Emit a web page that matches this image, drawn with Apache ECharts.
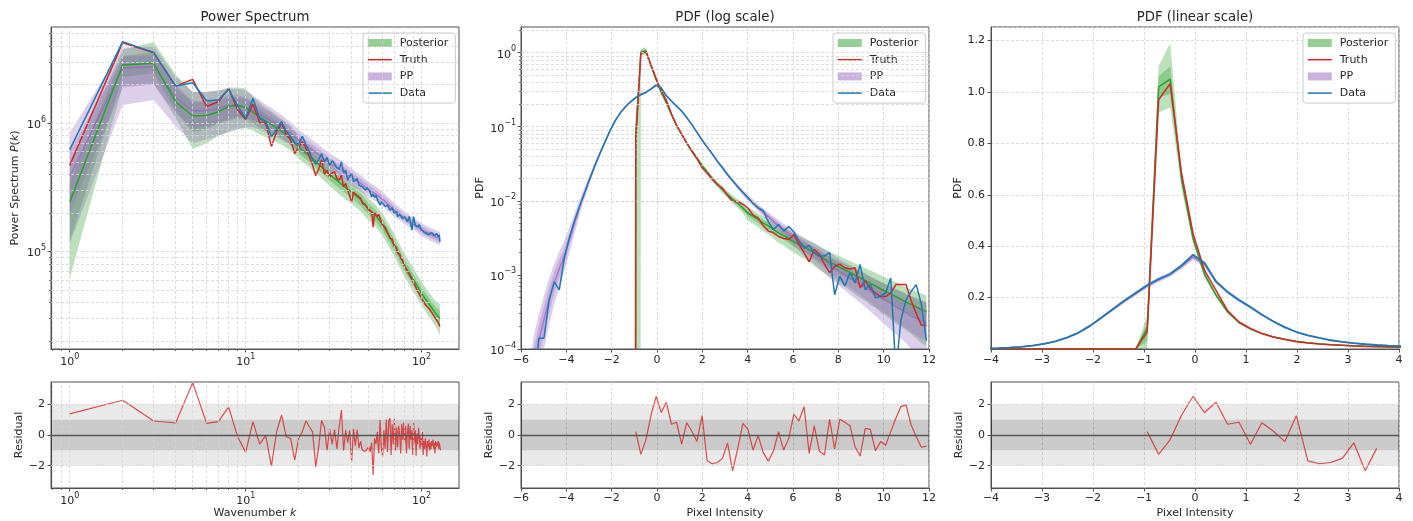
<!DOCTYPE html>
<html><head><meta charset="utf-8">
<script src="https://cdn.jsdelivr.net/npm/echarts@6/dist/echarts.min.js"></script>
<style>html,body{margin:0;padding:0;background:#fff;}#c{width:1413px;height:521px;}</style>
</head><body><div id="c"></div>
<script>
// ---------------- Power spectrum data ----------------
const K_LINE = [1,2,3,4,5,6,7,8,9,10,11,12,13,14,15,16,17,18,19,20,21,22,23,24,25,26,27,28,29,30,
31,32,33,34,35,36,37,38,39,40,41,42,43,44,45,46,47,48,49,50,51,52,53,54,55,56,57,58,59,60,
62,63,64,66,68,70,72,73,75,76,78,80,82,83,85,86,88,90,92,95,97,100,102,105,107,110,112,115,118,120,122,124,126,127];
const PS_DATA = [6.2e5,4.33e6,3.57e6,1.95e6,2.07e6,1.5e6,1.52e6,1.84e6,1.36e6,1.09e6,
1.57e6,1.09e6,1.03e6,7.9e5,8.9e5,1.03e6,8.6e5,7.9e5,7.0e5,6.9e5,
7.9e5,6.8e5,6.0e5,5.2e5,4.8e5,5.2e5,5.8e5,5.0e5,5.4e5,4.7e5,
5.1e5,4.8e5,4.5e5,4.4e5,5.0e5,4.1e5,4.3e5,3.6e5,3.9e5,4.05e5,
3.5e5,3.5e5,3.7e5,3.3e5,3.4e5,3.2e5,3.3e5,3.0e5,3.15e5,3.2e5,
2.9e5,2.68e5,2.8e5,2.65e5,2.75e5,2.55e5,2.6e5,2.3e5,2.45e5,2.38e5,
2.25e5,2.18e5,2.3e5,2.1e5,2.2e5,1.99e5,2.05e5,1.87e5,1.95e5,1.93e5,1.8e5,1.87e5,1.85e5,1.71e5,1.88e5,1.93e5,1.47e5,1.87e5,1.6e5,1.56e5,1.62e5,1.47e5,1.52e5,1.39e5,1.44e5,1.35e5,1.4e5,1.39e5,1.33e5,1.31e5,1.38e5,1.3e5,1.35e5,1.19e5];
const PS_TRUTH = [4.7e5,4.25e6,3.55e6,1.95e6,2.2e6,1.35e6,1.47e6,1.87e6,1.27e6,1.07e6,
1.41e6,1.02e6,1.0e6,6.6e5,8.6e5,1.0e6,8.2e5,7.4e5,5.8e5,6.5e5,
7.2e5,6.4e5,5.5e5,4.7e5,3.9e5,4.4e5,5.2e5,4.0e5,4.3e5,3.8e5,
4.1e5,4.2e5,3.7e5,3.6e5,3.95e5,3.2e5,3.4e5,3.0e5,3.1e5,2.45e5,
2.9e5,3.0e5,2.75e5,2.68e5,2.6e5,2.38e5,2.45e5,2.3e5,2.2e5,2.1e5,
2.15e5,2.05e5,1.55e5,2.0e5,1.99e5,1.88e5,1.95e5,1.82e5,1.7e5,1.61e5,
1.55e5,1.47e5,1.5e5,1.27e5,1.25e5,1.09e5,1.08e5,9.7e4,9.6e4,8.9e4,8.5e4,7.6e4,7.8e4,7.0e4,6.9e4,6.4e4,6.2e4,5.7e4,5.5e4,4.9e4,4.8e4,4.3e4,4.4e4,3.84e4,3.9e4,3.6e4,3.55e4,3.3e4,3.2e4,3.0e4,2.95e4,2.8e4,2.75e4,2.6e4];
const K_BAND = [1,2,3,4,5,6,7,8,9,10,11,12,13,14,16,18,20,23,26,30,35,40,45,50,55,60,70,80,90,100,110,120,127];
const PS_POST_MED = [2.42e5,2.85e6,2.94e6,1.47e6,1.14e6,1.15e6,1.23e6,1.35e6,1.38e6,1.32e6,1.22e6,1.12e6,1.04e6,9.8e5,8.7e5,7.7e5,6.5e5,5.6e5,4.8e5,4.0e5,3.35e5,2.9e5,2.55e5,2.15e5,1.9e5,1.62e5,1.12e5,7.8e4,6.0e4,4.7e4,3.9e4,3.3e4,3.0e4];
const PS_POST_OLO = [6.2e4,1.95e6,2.05e6,1.1e6,6.3e5,7.0e5,8.0e5,8.6e5,9.0e5,9.2e5,8.8e5,8.2e5,7.8e5,7.5e5,6.8e5,6.1e5,5.3e5,4.55e5,3.9e5,3.25e5,2.7e5,2.35e5,2.05e5,1.75e5,1.55e5,1.32e5,9.1e4,6.3e4,4.85e4,3.8e4,3.1e4,2.6e4,2.25e4];
const PS_POST_OHI = [4.6e5,3.75e6,4.3e6,2.4e6,1.76e6,1.76e6,1.8e6,1.9e6,1.9e6,1.87e6,1.62e6,1.45e6,1.32e6,1.24e6,1.08e6,9.6e5,7.8e5,6.8e5,5.8e5,4.85e5,4.05e5,3.5e5,3.1e5,2.6e5,2.3e5,1.98e5,1.37e5,9.6e4,7.4e4,5.8e4,4.8e4,4.1e4,3.9e4];
const PS_POST_ILO = [1.2e5,2.3e6,2.45e6,1.25e6,8.5e5,9.0e5,1.0e6,1.05e6,1.1e6,1.08e6,1.0e6,9.3e5,8.8e5,8.4e5,7.6e5,6.8e5,5.8e5,5.0e5,4.3e5,3.6e5,3.0e5,2.6e5,2.28e5,1.93e5,1.7e5,1.45e5,1.0e5,7.0e4,5.4e4,4.2e4,3.5e4,2.95e4,2.6e4];
const PS_POST_IHI = [3.5e5,3.35e6,3.6e6,1.9e6,1.45e6,1.45e6,1.5e6,1.6e6,1.6e6,1.55e6,1.42e6,1.3e6,1.18e6,1.12e6,9.9e5,8.7e5,7.2e5,6.2e5,5.3e5,4.45e5,3.7e5,3.2e5,2.83e5,2.38e5,2.1e5,1.8e5,1.24e5,8.6e4,6.6e4,5.2e4,4.35e4,3.7e4,3.45e4];
const PS_PP_MED = [3.84e5,2.7e6,2.75e6,1.6e6,1.25e6,1.25e6,1.3e6,1.38e6,1.4e6,1.32e6,1.26e6,1.18e6,1.1e6,1.04e6,9.3e5,8.3e5,7.4e5,6.4e5,5.7e5,4.9e5,4.3e5,3.8e5,3.4e5,3.05e5,2.8e5,2.55e5,2.1e5,1.82e5,1.65e5,1.48e5,1.38e5,1.3e5,1.26e5];
const PS_PP_OLO = [1.15e5,1.39e6,1.52e6,9.5e5,7.0e5,7.5e5,8.0e5,8.5e5,9.0e5,9.3e5,9.3e5,8.9e5,8.5e5,8.1e5,7.4e5,6.7e5,6.0e5,5.3e5,4.75e5,4.1e5,3.65e5,3.25e5,2.95e5,2.65e5,2.45e5,2.25e5,1.87e5,1.63e5,1.48e5,1.32e5,1.23e5,1.16e5,1.12e5];
const PS_PP_OHI = [8.4e5,3.9e6,4.0e6,2.3e6,1.75e6,1.75e6,1.8e6,1.85e6,1.85e6,1.8e6,1.65e6,1.52e6,1.4e6,1.32e6,1.16e6,1.02e6,9.0e5,7.7e5,6.8e5,5.85e5,5.1e5,4.45e5,3.95e5,3.5e5,3.2e5,2.92e5,2.38e5,2.05e5,1.84e5,1.66e5,1.55e5,1.47e5,1.43e5];
const PS_PP_ILO = [2.0e5,1.9e6,2.0e6,1.2e6,9.0e5,9.5e5,1.0e6,1.08e6,1.12e6,1.1e6,1.06e6,1.0e6,9.5e5,9.0e5,8.2e5,7.4e5,6.6e5,5.8e5,5.2e5,4.5e5,3.95e5,3.5e5,3.15e5,2.83e5,2.6e5,2.38e5,1.97e5,1.72e5,1.55e5,1.39e5,1.3e5,1.22e5,1.18e5];
const PS_PP_IHI = [6.0e5,3.3e6,3.4e6,2.0e6,1.5e6,1.5e6,1.55e6,1.65e6,1.65e6,1.6e6,1.48e6,1.38e6,1.27e6,1.2e6,1.05e6,9.3e5,8.3e5,7.1e5,6.3e5,5.4e5,4.7e5,4.15e5,3.7e5,3.3e5,3.02e5,2.74e5,2.25e5,1.94e5,1.75e5,1.58e5,1.47e5,1.39e5,1.35e5];
// residual, k = 1..128
const PS_RESIDUAL = [1.37,2.26,0.91,0.78,3.41,0.76,0.87,1.83,-0.11,-1.13,
0.87,-0.59,-0.02,-2.02,0.22,1.3,-0.11,-0.22,-1.63,-0.2,
0.22,0.93,0.54,0.2,-2.07,-0.76,0.95,0.5,-0.98,0.37,
-0.59,0.35,-0.9,0.55,1.63,-1.0,0.3,-0.5,0.3,-1.74,
0.4,-0.7,0.35,-0.85,-0.4,-1.0,-0.95,-1.05,-0.9,-0.75,
-1.1,-0.5,-2.6,-0.2,-0.6,0.2,-1.2,0.98,-0.8,-1.4,
0.3,-0.9,1.0,-1.1,0.9,1.09,-1.3,0.7,-0.6,1.05,
-1.0,0.5,-0.8,0.6,0.1,-1.2,0.7,-0.3,0.8,-0.5,
0.6,-1.2,0.2,0.75,-0.9,0.6,-0.3,0.3,-1.3,0.8,
-0.5,0.3,-1.35,0.1,-0.6,0.45,-0.2,-0.9,-0.1,-0.8,
0.2,-1.3,-0.4,-0.9,-0.2,-0.7,-1.4,-0.4,-0.8,-0.3,
-1.0,-0.5,-0.9,-0.4,-0.7,-0.3,-0.9,-0.5,-1.2,-0.4,
-0.8,-0.5,-0.7,-0.4,-0.9,-0.5,-0.8,-1.0];

// ---------------- PDF data (bin centres) ----------------
const PIX_BINS = [-5.8875,-5.6625,-5.4375,-5.2125,-4.9875,-4.7625,-4.5375,-4.3125,-4.0875,-3.8625,
-3.6375,-3.4125,-3.1875,-2.9625,-2.7375,-2.5125,-2.2875,-2.0625,-1.8375,-1.6125,
-1.3875,-1.1625,-0.9375,-0.7125,-0.4875,-0.2625,-0.0375,0.1875,0.4125,0.6375,
0.8625,1.0875,1.3125,1.5375,1.7625,1.9875,2.2125,2.4375,2.6625,2.8875,
3.1125,3.3375,3.5625,3.7875,4.0125,4.2375,4.4625,4.6875,4.9125,5.1375,
5.3625,5.5875,5.8125,6.0375,6.2625,6.4875,6.7125,6.9375,7.1625,7.3875,
7.6125,7.8375,8.0625,8.2875,8.5125,8.7375,8.9625,9.1875,9.4125,9.6375,
9.8625,10.0875,10.3125,10.5375,10.7625,10.9875,11.2125,11.4375,11.6625,11.8875];
const PDF_DATA = [0,0,0.00003,0.00014,0.00014,0.00045,0.00081,0.00063,0.0017,0.0032,
0.0054,0.0085,0.013,0.020,0.030,0.044,0.063,0.090,0.122,0.155,
0.188,0.218,0.248,0.272,0.292,0.325,0.367,0.335,0.262,0.222,
0.191,0.163,0.133,0.107,0.084,0.066,0.053,0.043,0.034,0.028,
0.0225,0.0185,0.0155,0.013,0.011,0.0092,0.008,0.0074,0.0052,0.0041,
0.0048,0.0039,0.0045,0.0038,0.0029,0.0023,0.0025,0.002,0.0018,0.0018,
0.002,0.00054,0.00096,0.00071,0.00107,0.00078,0.00138,0.00063,0.00074,0.00049,
0.00052,0.00057,0.00091,0.00005,0.00025,0.00046,0.0006,0.00074,0.0004,0.00013];
const PDF_TRUTH = [0,0,0,0,0,0,0,0,0,0,
0,0,0,0,0,0,0,0,0,0,
0,0,0.066,0.97,1.032,0.682,0.449,0.306,0.228,0.150,
0.105,0.080,0.060,0.047,0.037,0.028,0.0235,0.0195,0.0165,0.0148,
0.0118,0.0098,0.0098,0.009,0.008,0.0064,0.0059,0.0046,0.0039,0.0037,
0.0033,0.0031,0.003,0.0035,0.0026,0.002,0.0015,0.0022,0.0019,0.0014,
0.00107,0.0013,0.0014,0.00125,0.0012,0.00125,0.00067,0.00083,0.00065,0.00057,
0.00051,0.00051,0.00057,0.00074,0.00074,0.00074,0.00045,0.0003,0.00021,0.00021];
const PDF_POST_MED = [0,0,0,0,0,0,0,0,0,0,0,0,0,0,0,0,0,0,0,0,
0,0,0.08,1.02,1.05,0.66,0.43,0.29,0.21,0.145,
0.103,0.078,0.060,0.047,0.038,0.030,0.0245,0.020,0.0168,0.0142,
0.0122,0.0105,0.0092,0.008,0.0068,0.0062,0.0056,0.005,0.0046,0.0041,
0.0037,0.0034,0.0031,0.0028,0.0026,0.0024,0.0022,0.002,0.0018,0.00165,
0.0015,0.00138,0.00127,0.00117,0.00108,0.00099,0.00091,0.00084,0.00077,0.00071,
0.00065,0.0006,0.00055,0.00051,0.00047,0.00043,0.0004,0.00037,0.00034,0.00032];
const PDF_POST_OLO = [0,0,0,0,0,0,0,0,0,0,0,0,0,0,0,0,0,0,0,0,
0,0,0,0.92,0.94,0.625,0.41,0.277,0.2,0.138,
0.0977,0.0738,0.0566,0.0442,0.0356,0.028,0.0227,0.0184,0.0153,0.0128,
0.0109,0.0093,0.008,0.0068,0.0054,0.0049,0.0044,0.0039,0.0035,0.0031,
0.0027,0.0025,0.0022,0.002,0.0018,0.00166,0.0015,0.00132,0.00117,0.00106,
0.00095,0.00086,0.00076,0.00069,0.00062,0.00055,0.00049,0.00045,0.00039,0.00036,
0.00031,0.00028,0.00025,0.00022,0.0002,0.00018,0.00016,0.00014,0.00012,0.00011];
const PDF_POST_OHI = [0,0,0,0,0,0,0,0,0,0,0,0,0,0,0,0,0,0,0,0,
0,0,0.13,1.10,1.19,0.695,0.45,0.303,0.22,0.152,
0.1083,0.0822,0.0634,0.0498,0.0405,0.032,0.0264,0.0217,0.0184,0.0157,
0.0136,0.0118,0.0105,0.0093,0.0082,0.0075,0.0068,0.0062,0.0057,0.0051,
0.0047,0.0043,0.004,0.0036,0.0034,0.0031,0.0029,0.00268,0.00243,0.00224,
0.00206,0.0019,0.00178,0.00165,0.00154,0.00143,0.00133,0.00123,0.00115,0.00107,
0.00099,0.00092,0.00085,0.0008,0.00074,0.00068,0.00064,0.0006,0.00056,0.00053];
const PDF_POST_ILO = [0,0,0,0,0,0,0,0,0,0,0,0,0,0,0,0,0,0,0,0,
0,0,0.03,0.98,0.99,0.642,0.42,0.2835,0.205,0.1415,
0.1004,0.0759,0.0583,0.0456,0.0368,0.029,0.0236,0.0192,0.016,0.0135,
0.0116,0.0099,0.0086,0.0074,0.0062,0.0056,0.005,0.0045,0.0041,0.0036,
0.0033,0.003,0.0027,0.0024,0.0022,0.00205,0.00187,0.00169,0.00151,0.00138,
0.00125,0.00114,0.00104,0.00095,0.00086,0.00079,0.00072,0.00066,0.0006,0.00055,
0.00049,0.00045,0.00041,0.00038,0.00034,0.00031,0.00029,0.00026,0.00024,0.00022];
const PDF_POST_IHI = [0,0,0,0,0,0,0,0,0,0,0,0,0,0,0,0,0,0,0,0,
0,0,0.10,1.06,1.10,0.678,0.44,0.2965,0.215,0.1485,
0.1056,0.0801,0.0617,0.0484,0.0392,0.031,0.0254,0.0208,0.0176,0.0149,
0.0128,0.0111,0.0098,0.0086,0.0074,0.0068,0.0062,0.0055,0.0051,0.0046,
0.0041,0.0038,0.0035,0.0032,0.003,0.00275,0.00253,0.00231,0.00209,0.00192,
0.00176,0.00162,0.0015,0.00139,0.0013,0.00119,0.0011,0.00102,0.00094,0.00087,
0.00081,0.00075,0.00069,0.00064,0.0006,0.00055,0.00051,0.00048,0.00044,0.00042];
const PDF_PP_MED = [0.000002,0.000012,0.00005,0.00013,0.00025,0.00046,0.00078,0.0012,0.0018,0.003,
0.005,0.0083,0.013,0.02,0.03,0.044,0.063,0.089,0.121,0.154,
0.186,0.216,0.246,0.27,0.29,0.322,0.358,0.33,0.262,0.222,
0.19,0.162,0.133,0.107,0.085,0.067,0.053,0.043,0.0345,0.028,
0.0228,0.0188,0.0155,0.013,0.011,0.0094,0.0081,0.007,0.0061,0.0053,
0.0046,0.0041,0.0036,0.0032,0.0028,0.0025,0.0022,0.002,0.0018,0.0016,
0.0014,0.00125,0.0011,0.001,0.0009,0.00082,0.00074,0.00067,0.0006,0.00054,
0.00049,0.00045,0.00041,0.00037,0.00034,0.00031,0.00028,0.00026,0.00024,0.00022];
const PDF_PP_OLO = [2e-7,2e-6,1.2e-5,4.5e-5,1e-4,2.1e-4,4e-4,6.6e-4,1.1e-3,2e-3,
0.0036,0.0065,0.0108,0.0174,0.027,0.0405,0.059,0.084,0.115,0.147,
0.178,0.207,0.236,0.26,0.28,0.311,0.346,0.319,0.253,0.214,
0.183,0.156,0.128,0.103,0.0815,0.0641,0.0506,0.0409,0.0327,0.0264,
0.0214,0.0175,0.0143,0.0119,0.01,0.0085,0.0072,0.0062,0.0053,0.0045,
0.0039,0.0034,0.0029,0.0025,0.0021,0.0018,0.0016,0.0014,0.0012,0.00105,
0.0009,0.0008,0.0007,0.00062,0.00054,0.00048,0.00042,0.00037,0.00032,0.00028,
0.00024,0.00021,0.00018,0.00016,0.00014,0.00012,0.0001,0.00009,0.00008,0.00007];
const PDF_PP_OHI = [1.5e-5,5e-5,1.5e-4,3e-4,5.2e-4,9e-4,1.4e-3,2.1e-3,2.9e-3,4.4e-3,
0.0068,0.0105,0.0156,0.0228,0.0333,0.0478,0.067,0.094,0.127,0.161,
0.194,0.225,0.256,0.28,0.3,0.333,0.37,0.341,0.271,0.23,
0.197,0.168,0.138,0.111,0.0885,0.0699,0.0554,0.0451,0.0363,0.0296,
0.0242,0.0201,0.0167,0.0141,0.012,0.0104,0.009,0.0079,0.007,0.0062,
0.0055,0.0049,0.0044,0.004,0.0035,0.0032,0.0029,0.0027,0.0024,0.0022,
0.002,0.0018,0.0016,0.00148,0.00135,0.00125,0.00114,0.00105,0.00096,0.00088,
0.00081,0.00075,0.0007,0.00064,0.0006,0.00056,0.00052,0.00049,0.00046,0.00043];
const PDF_PP_ILO = [8e-7,5e-6,2.5e-5,7.5e-5,1.6e-4,3.1e-4,5.6e-4,9e-4,1.4e-3,2.5e-3,
0.0043,0.0074,0.0119,0.0187,0.0285,0.0422,0.061,0.0865,0.118,0.1505,
0.182,0.2115,0.241,0.265,0.285,0.3165,0.352,0.3245,0.2575,0.218,
0.1865,0.159,0.1305,0.105,0.0833,0.0655,0.0518,0.042,0.0336,0.0272,
0.0221,0.0182,0.0149,0.0125,0.0105,0.0089,0.0076,0.0066,0.0057,0.0049,
0.0042,0.0037,0.0032,0.0028,0.0024,0.0021,0.0018,0.0016,0.0014,0.00125,
0.0011,0.00095,0.00083,0.00075,0.00067,0.0006,0.00053,0.00047,0.00042,0.00037,
0.00033,0.0003,0.00027,0.00024,0.00021,0.00019,0.00017,0.00015,0.00014,0.00013];
const PDF_PP_IHI = [6e-6,2.5e-5,1e-4,2.1e-4,3.8e-4,6.6e-4,1.08e-3,1.6e-3,2.3e-3,3.6e-3,
0.0058,0.0093,0.0142,0.0213,0.0315,0.0458,0.065,0.0915,0.124,0.1575,
0.19,0.2205,0.251,0.275,0.295,0.3275,0.364,0.3355,0.2665,0.226,
0.1935,0.165,0.1355,0.109,0.0867,0.0685,0.0542,0.044,0.0354,0.0288,
0.0235,0.0194,0.0161,0.0135,0.0115,0.0099,0.0086,0.0075,0.0066,0.0058,
0.0051,0.0045,0.004,0.0036,0.0032,0.0029,0.0026,0.0024,0.0022,0.00195,
0.0017,0.00155,0.00137,0.00125,0.00113,0.00104,0.00095,0.00087,0.00078,0.00071,
0.00065,0.0006,0.00055,0.0005,0.00047,0.00043,0.0004,0.00037,0.00035,0.00033];
// residuals for bins starting at -0.9375 (log panel shows all, linear panel shows bins up to 3.5625)
const PDF_RES_X = PIX_BINS.slice(22);
const PDF_RESIDUAL = [0.22,-1.26,-0.3,1.3,2.52,1.46,2.13,0.7,0.83,-0.6,
0.8,0.24,-0.43,1.26,-1.68,-1.87,-1.79,-1.52,-0.51,-2.33,
-0.87,0.76,0.37,-0.98,-0.04,-1.15,-1.7,-1.04,0.22,-0.98,
-0.22,1.35,0.91,1.85,-1.2,0.59,-1.04,-1.3,1.02,-0.91,
1.02,0.83,0.61,-0.76,-1.37,0.43,0.37,-1.02,-0.43,-0.67,
0.22,1.09,1.85,1.96,0.65,-0.11,-0.8,-0.72];
const PDF_RES_LIN_COUNT = 21;

// tick / grid values
const PS_X_MAJOR = [1,10,100];
const PS_X_MINOR = [0.8,0.9,2,3,4,5,6,7,8,9,20,30,40,50,60,70,80,90];
const PS_Y_MAJOR = [1e5,1e6];
const PS_Y_MINOR = [2e4,3e4,4e4,5e4,6e4,7e4,8e4,9e4,2e5,3e5,4e5,5e5,6e5,7e5,8e5,9e5,2e6,3e6,4e6,5e6];
const PDF_Y_MAJOR = [1e-4,1e-3,1e-2,1e-1,1];
const PDF_Y_MINOR = [2e-4,3e-4,4e-4,5e-4,6e-4,7e-4,8e-4,9e-4,2e-3,3e-3,4e-3,5e-3,6e-3,7e-3,8e-3,9e-3,
2e-2,3e-2,4e-2,5e-2,6e-2,7e-2,8e-2,9e-2,0.2,0.3,0.4,0.5,0.6,0.7,0.8,0.9,2];
const RES_TICKS = [-2,0,2];

// ---------------- styling ----------------
const FONT = 'DejaVu Sans';
const TXT = '#262626';
const AX = '#505050';
const C_POST = '#2ca02c', C_TRUTH = '#d62728', C_PP = '#9467bd', C_DATA = '#1f77b4';
const F_POST = 'rgba(44,160,44,0.32)', F_PP = 'rgba(148,103,189,0.32)';
const GRIDLINE = {type:[3,2], color:'#d4d4d4', width:0.8};
const LOGFLOOR = 1e-100;
const LW = 1.5;

const G = [
  {left:51, top:27, width:408, height:322},
  {left:521, top:27, width:408, height:322},
  {left:991, top:27, width:408, height:322},
  {left:51, top:382, width:408, height:106},
  {left:521, top:382, width:408, height:106},
  {left:991, top:382, width:408, height:106}
];

const minus = v => (v < 0 ? '\u2212' + (-v) : String(v));
function supFmt(v){
  const e = Math.log10(v), r = Math.round(e);
  if (Math.abs(e - r) > 1e-6) return '';
  return '{b|10}{s|' + (r < 0 ? '\u2212' + (-r) : r) + '}';
}
const supRich = {
  b:{fontSize:11, fontFamily:FONT, color:TXT, lineHeight:15, verticalAlign:'bottom'},
  s:{fontSize:8, fontFamily:FONT, color:TXT, lineHeight:9, verticalAlign:'top'}
};
const nameStyle = (rich) => ({fontSize:11, fontFamily:FONT, color:TXT, rich: rich || {}});
const italRich = {n:{fontSize:11, fontFamily:FONT, color:TXT}, i:{fontSize:11, fontFamily:FONT, color:TXT, fontStyle:'italic'}};

function axis(gi, extra){
  const base = {
    gridIndex: gi,
    axisLine:{show:true, onZero:false, lineStyle:{color:AX, width:1}},
    axisTick:{show:true, length:3.5, lineStyle:{color:AX, width:1}},
    axisLabel:{color:TXT, fontSize:11, fontFamily:FONT, margin:5},
    splitLine:{show:false},
    nameTextStyle: nameStyle()
  };
  const out = Object.assign({}, base, extra);
  ['axisLine','axisTick','axisLabel','splitLine','nameTextStyle'].forEach(k => {
    if (extra[k]) out[k] = Object.assign({}, base[k], extra[k]);
  });
  return out;
}
// an extra, label-less log axis that only carries the minor ticks (2..9 of each decade)
function minorTickAxis(gi, position, min, max, minors){
  return {gridIndex:gi, position, offset:0, type:'log', logBase:10, min, max, silent:true,
    axisLine:{show:false, onZero:false}, axisLabel:{show:false}, splitLine:{show:false},
    axisTick:{show:true, length:2, customValues:minors, lineStyle:{color:AX, width:0.8}}};
}

function band(name, xs, lo, hi, color, xi, yi, floor){
  return {
    type:'custom', name, xAxisIndex:xi, yAxisIndex:yi, clip:true, silent:true, z:2,
    itemStyle:{color}, encode:{x:0, y:[1,2]},
    data: xs.map((x,i) => [x, lo[i], hi[i]]),
    renderItem(params, api){
      if (params.dataIndexInside !== 0) return null;
      const pts = [];
      for (let i = 0; i < xs.length; i++) pts.push(api.coord([xs[i], Math.max(hi[i], floor)]));
      for (let i = xs.length - 1; i >= 0; i--) pts.push(api.coord([xs[i], Math.max(lo[i], floor)]));
      return {type:'polygon', shape:{points:pts}, style:{fill:color}};
    }
  };
}
function line(name, xs, ys, color, xi, yi, width, z, floor, opacity){
  return {
    type:'line', name, xAxisIndex:xi, yAxisIndex:yi, z, clip:true, symbol:'none', showSymbol:false,
    silent:true, emphasis:{disabled:true},
    data: xs.map((x,i) => [x, Math.max(ys[i], floor)]),
    lineStyle:{color, width, opacity: opacity == null ? 1 : opacity}, itemStyle:{color}
  };
}
function gridLines(xi, yi, anchor, xs, ys){
  return {
    type:'line', xAxisIndex:xi, yAxisIndex:yi, z:1, silent:true, symbol:'none',
    data:[anchor], lineStyle:{opacity:0},
    markLine:{silent:true, symbol:'none', animation:false, label:{show:false},
      lineStyle:GRIDLINE, emphasis:{disabled:true},
      data:[...xs.map(v => ({xAxis:v})), ...ys.map(v => ({yAxis:v}))]}
  };
}
function residualDecor(xi, yi, anchor){
  return {
    type:'line', xAxisIndex:xi, yAxisIndex:yi, z:1, silent:true, symbol:'none',
    data:[anchor], lineStyle:{opacity:0},
    markArea:{silent:true, animation:false, label:{show:false},
      data:[
        [{yAxis:-2, itemStyle:{color:'rgba(0,0,0,0.085)'}}, {yAxis:2}],
        [{yAxis:-1, itemStyle:{color:'rgba(0,0,0,0.13)'}}, {yAxis:1}]
      ]},
    markLine:{silent:true, symbol:'none', animation:false, label:{show:false}, emphasis:{disabled:true},
      data:[
        {yAxis:-2, lineStyle:GRIDLINE},
        {yAxis:2, lineStyle:GRIDLINE},
        {yAxis:0, lineStyle:{type:'solid', color:'#555555', width:1.3}}
      ]}
  };
}
const HIDDEN_SYMBOL = {color:'rgba(0,0,0,0)', borderColor:'rgba(0,0,0,0)', borderWidth:0, opacity:0};
function legendAt(left){
  return {
    left, top:33, orient:'vertical', itemWidth:24, itemHeight:8, itemGap:2.7,
    padding:[3,7,3,4], backgroundColor:'rgba(255,255,255,0.8)', borderColor:'#cccccc',
    borderWidth:1, borderRadius:3, selectedMode:false,
    textStyle:{fontSize:11, fontFamily:FONT, color:TXT, lineHeight:14, padding:[0,0,0,3]},
    data:[
      {name:'Posterior', icon:'rect', itemStyle:{color:'rgba(44,160,44,0.5)'}},
      {name:'Truth', itemStyle:HIDDEN_SYMBOL, lineStyle:{color:C_TRUTH, width:LW, opacity:1}},
      {name:'PP', icon:'rect', itemStyle:{color:'rgba(148,103,189,0.5)'}},
      {name:'Data', itemStyle:HIDDEN_SYMBOL, lineStyle:{color:C_DATA, width:LW, opacity:1}}
    ]
  };
}

const titleTxt = (x, t) => ({type:'text', x, y:17.5, silent:true,
  style:{text:t, fontSize:13.3, fontFamily:FONT, fill:TXT, align:'center', verticalAlign:'middle'}});

const PS_XMIN = 0.783, PS_XMAX = 163, PS_YMIN = 1.74e4, PS_YMAX = 5.63e6, PDF_YMIN = 1e-4, PDF_YMAX = 2.22;
const logXps = (gi, extra) => axis(gi, Object.assign({type:'log', logBase:10, min:PS_XMIN, max:PS_XMAX, position:'bottom',
  axisTick:{customValues:PS_X_MAJOR},
  axisLabel:{customValues:PS_X_MAJOR, formatter:supFmt, rich:supRich, margin:4}}, extra || {}));

const option = {
  animation:false,
  backgroundColor:'#ffffff',
  textStyle:{fontFamily:FONT},
  graphic:[titleTxt(255,'Power Spectrum'), titleTxt(725,'PDF (log scale)'), titleTxt(1195,'PDF (linear scale)')],
  legend:[legendAt(363), legendAt(833), legendAt(1303)],
  grid: G.map(g => Object.assign({show:true, borderColor:AX, borderWidth:1, backgroundColor:'rgba(0,0,0,0)'}, g)),
  xAxis:[
    logXps(0),
    axis(1, {type:'value', position:'bottom', min:-6, max:12, interval:2, axisLabel:{formatter:minus, margin:6}, splitLine:{show:true, lineStyle:GRIDLINE}}),
    axis(2, {type:'value', position:'bottom', min:-4, max:4, interval:1, axisLabel:{formatter:minus, margin:6}, splitLine:{show:true, lineStyle:GRIDLINE}}),
    logXps(3, {name:'{n|Wavenumber }{i|k}', nameLocation:'middle', nameGap:20, nameTextStyle:nameStyle(italRich)}),
    axis(4, {type:'value', position:'bottom', min:-6, max:12, interval:2, axisLabel:{formatter:minus, margin:5}, splitLine:{show:true, lineStyle:GRIDLINE},
      name:'Pixel Intensity', nameLocation:'middle', nameGap:20}),
    axis(5, {type:'value', position:'bottom', min:-4, max:4, interval:1, axisLabel:{formatter:minus, margin:5}, splitLine:{show:true, lineStyle:GRIDLINE},
      name:'Pixel Intensity', nameLocation:'middle', nameGap:20}),
    minorTickAxis(0, 'bottom', PS_XMIN, PS_XMAX, PS_X_MINOR),
    minorTickAxis(3, 'bottom', PS_XMIN, PS_XMAX, PS_X_MINOR)
  ],
  yAxis:[
    axis(0, {type:'log', position:'left', logBase:10, min:PS_YMIN, max:PS_YMAX, axisTick:{customValues:PS_Y_MAJOR},
      axisLabel:{customValues:PS_Y_MAJOR, formatter:supFmt, rich:supRich, margin:5},
      name:'{n|Power Spectrum }{i|P}{n|(}{i|k}{n|)}', nameLocation:'middle', nameGap:30, nameTextStyle:nameStyle(italRich)}),
    axis(1, {type:'log', position:'left', logBase:10, min:PDF_YMIN, max:PDF_YMAX, axisTick:{customValues:PDF_Y_MAJOR},
      axisLabel:{customValues:PDF_Y_MAJOR, formatter:supFmt, rich:supRich, margin:5},
      name:'PDF', nameLocation:'middle', nameGap:35}),
    axis(2, {type:'value', position:'left', min:0, max:1.253, interval:0.2, axisLabel:{formatter:v => v.toFixed(1), showMinLabel:false, showMaxLabel:false, margin:6},
      splitLine:{show:true, lineStyle:GRIDLINE}, name:'PDF', nameLocation:'middle', nameGap:27}),
    axis(3, {type:'value', position:'left', min:-3.45, max:3.45, axisLabel:{customValues:RES_TICKS, formatter:minus, margin:6}, axisTick:{customValues:RES_TICKS},
      name:'Residual', nameLocation:'middle', nameGap:25}),
    axis(4, {type:'value', position:'left', min:-3.45, max:3.45, axisLabel:{customValues:RES_TICKS, formatter:minus, margin:6}, axisTick:{customValues:RES_TICKS},
      name:'Residual', nameLocation:'middle', nameGap:25}),
    axis(5, {type:'value', position:'left', min:-3.45, max:3.45, axisLabel:{customValues:RES_TICKS, formatter:minus, margin:6}, axisTick:{customValues:RES_TICKS},
      name:'Residual', nameLocation:'middle', nameGap:25}),
    minorTickAxis(0, 'left', PS_YMIN, PS_YMAX, PS_Y_MINOR),
    minorTickAxis(1, 'left', PDF_YMIN, PDF_YMAX, PDF_Y_MINOR)
  ],
  series:[
    // ---- panel 1: power spectrum
    gridLines(0, 0, [1, 1e5], [...PS_X_MAJOR, ...PS_X_MINOR], [...PS_Y_MAJOR, ...PS_Y_MINOR]),
    band('Posterior', K_BAND, PS_POST_OLO, PS_POST_OHI, F_POST, 0, 0, LOGFLOOR),
    band('Posterior inner', K_BAND, PS_POST_ILO, PS_POST_IHI, F_POST, 0, 0, LOGFLOOR),
    band('PP', K_BAND, PS_PP_OLO, PS_PP_OHI, F_PP, 0, 0, LOGFLOOR),
    band('PP inner', K_BAND, PS_PP_ILO, PS_PP_IHI, F_PP, 0, 0, LOGFLOOR),
    line('PP median', K_BAND, PS_PP_MED, C_PP, 0, 0, 1.2, 3, LOGFLOOR, 0.8),
    line('Posterior median', K_BAND, PS_POST_MED, C_POST, 0, 0, LW, 3, LOGFLOOR),
    line('Truth', K_LINE, PS_TRUTH, C_TRUTH, 0, 0, LW, 4, LOGFLOOR),
    line('Data', K_LINE, PS_DATA, C_DATA, 0, 0, LW, 5, LOGFLOOR),
    // ---- panel 2: pdf log
    gridLines(1, 1, [0, 0.01], [], [...PDF_Y_MAJOR, ...PDF_Y_MINOR]),
    band('Posterior', PIX_BINS, PDF_POST_OLO, PDF_POST_OHI, F_POST, 1, 1, LOGFLOOR),
    band('Posterior inner', PIX_BINS, PDF_POST_ILO, PDF_POST_IHI, F_POST, 1, 1, LOGFLOOR),
    band('PP', PIX_BINS, PDF_PP_OLO, PDF_PP_OHI, F_PP, 1, 1, LOGFLOOR),
    band('PP inner', PIX_BINS, PDF_PP_ILO, PDF_PP_IHI, F_PP, 1, 1, LOGFLOOR),
    line('PP median', PIX_BINS, PDF_PP_MED, C_PP, 1, 1, 1.2, 3, LOGFLOOR, 0.8),
    line('Posterior median', PIX_BINS, PDF_POST_MED, C_POST, 1, 1, LW, 3, LOGFLOOR),
    line('Truth', PIX_BINS, PDF_TRUTH, C_TRUTH, 1, 1, LW, 4, LOGFLOOR),
    line('Data', PIX_BINS, PDF_DATA, C_DATA, 1, 1, LW, 5, LOGFLOOR),
    // ---- panel 3: pdf linear
    band('Posterior', PIX_BINS, PDF_POST_OLO, PDF_POST_OHI, F_POST, 2, 2, -Infinity),
    band('Posterior inner', PIX_BINS, PDF_POST_ILO, PDF_POST_IHI, F_POST, 2, 2, -Infinity),
    band('PP', PIX_BINS, PDF_PP_OLO, PDF_PP_OHI, F_PP, 2, 2, -Infinity),
    band('PP inner', PIX_BINS, PDF_PP_ILO, PDF_PP_IHI, F_PP, 2, 2, -Infinity),
    line('PP median', PIX_BINS, PDF_PP_MED, C_PP, 2, 2, 1.2, 3, -Infinity, 0.8),
    line('Posterior median', PIX_BINS, PDF_POST_MED, C_POST, 2, 2, LW, 3, -Infinity),
    line('Truth', PIX_BINS, PDF_TRUTH, C_TRUTH, 2, 2, LW, 4, -Infinity),
    line('Data', PIX_BINS, PDF_DATA, C_DATA, 2, 2, 1.8, 5, -Infinity),
    // ---- residual panels
    gridLines(3, 3, [1, 0], [...PS_X_MAJOR, ...PS_X_MINOR], []),
    residualDecor(3, 3, [1, 0]),
    {type:'line', name:'Residual PS', xAxisIndex:3, yAxisIndex:3, z:4, symbol:'none', silent:true, clip:true,
      data: PS_RESIDUAL.map((r,i) => [i + 1, r]), lineStyle:{color:C_TRUTH, width:1.2, opacity:0.8}},
    residualDecor(4, 4, [0, 0]),
    {type:'line', name:'Residual PDF', xAxisIndex:4, yAxisIndex:4, z:4, symbol:'none', silent:true, clip:true,
      data: PDF_RES_X.map((x,i) => [x, PDF_RESIDUAL[i]]), lineStyle:{color:C_TRUTH, width:1.2, opacity:0.8}},
    residualDecor(5, 5, [0, 0]),
    {type:'line', name:'Residual PDF lin', xAxisIndex:5, yAxisIndex:5, z:4, symbol:'none', silent:true, clip:true,
      data: PDF_RES_X.slice(0, PDF_RES_LIN_COUNT).map((x,i) => [x, PDF_RESIDUAL[i]]), lineStyle:{color:C_TRUTH, width:1.2, opacity:0.8}}
  ]
};
const chart = echarts.init(document.getElementById('c'), null, {renderer:'canvas'});
chart.setOption(option);
</script>
</body></html>
